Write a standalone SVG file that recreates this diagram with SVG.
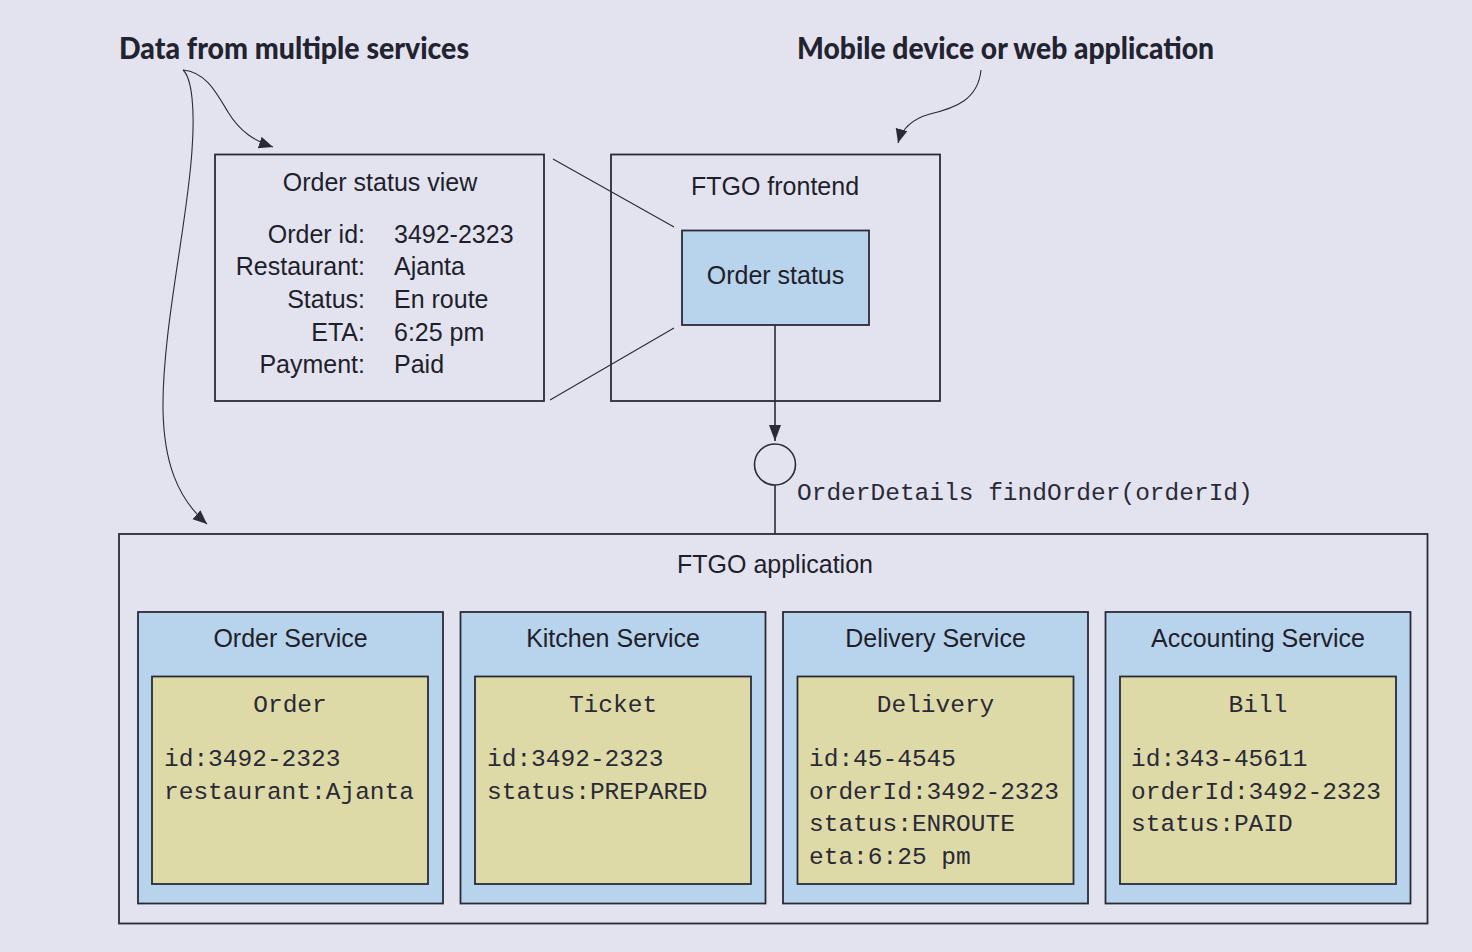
<svg xmlns="http://www.w3.org/2000/svg" width="1472" height="952" viewBox="0 0 1472 952">
<defs>
<style>
.bg{fill:#E3E3F0}
.box{fill:none;stroke:#2B2B38;stroke-width:1.8}
.svc{fill:#B8D3EC;stroke:#2B2B38;stroke-width:1.8}
.ent{fill:#DEDAA8;stroke:#2B2B38;stroke-width:1.8}
.sans{font-family:"Liberation Sans",Arial,sans-serif;font-size:25px;fill:#1F1F2B}
.mono{font-family:"Liberation Mono","Courier New",monospace;font-size:24.5px;fill:#2A2A36}
.call{font-family:Lato,"Open Sans",sans-serif;font-weight:900;font-size:30px;fill:#23232F}
.c{text-anchor:middle}
.r{text-anchor:end}
.thin{fill:none;stroke:#2B2B38;stroke-width:1.1}
.line{fill:none;stroke:#2B2B38;stroke-width:1.6}
</style>
<marker id="ah" markerUnits="userSpaceOnUse" markerWidth="16" markerHeight="14" refX="14" refY="6" orient="auto">
<path d="M0,0 L14,6 L0,12 z" fill="#2B2B38"/>
</marker>
<marker id="ahv" markerUnits="userSpaceOnUse" markerWidth="18" markerHeight="14" refX="16" refY="6" orient="auto">
<path d="M0,0 L16,6 L0,12 z" fill="#2B2B38"/>
</marker>
</defs>
<rect class="bg" x="0" y="0" width="1472" height="952"/>

<g id="callout-data">
<text class="call" x="119" y="59" textLength="350" lengthAdjust="spacingAndGlyphs">Data from multiple services</text>
</g>
<g id="callout-mobile">
<text class="call" x="797" y="59" textLength="417" lengthAdjust="spacingAndGlyphs">Mobile device or web application</text>
</g>

<g id="order-status-view">
<rect class="box" x="215" y="154.5" width="329" height="246.5"/>
<text class="sans c" x="380" y="191">Order status view</text>
<text class="sans r" x="365" y="243">Order id:</text>
<text class="sans" x="394" y="243">3492-2323</text>
<text class="sans r" x="365" y="275">Restaurant:</text>
<text class="sans" x="394" y="275">Ajanta</text>
<text class="sans r" x="365" y="307.5">Status:</text>
<text class="sans" x="394" y="307.5">En route</text>
<text class="sans r" x="365" y="340.5">ETA:</text>
<text class="sans" x="394" y="340.5">6:25 pm</text>
<text class="sans r" x="365" y="373">Payment:</text>
<text class="sans" x="394" y="373">Paid</text>
</g>

<g id="ftgo-frontend">
<rect class="box" x="611" y="154.5" width="329" height="246.5"/>
<text class="sans c" x="775" y="195">FTGO frontend</text>
</g>
<g id="order-status">
<rect class="svc" x="682" y="230.5" width="187" height="94.5"/>
<text class="sans c" x="775.5" y="284">Order status</text>
</g>

<g id="interface">
<circle cx="775" cy="464.5" r="20.5" fill="none" stroke="#2B2B38" stroke-width="1.6"/>
<text class="mono" x="797" y="500">OrderDetails findOrder(orderId)</text>
</g>

<g id="ftgo-application">
<rect class="box" x="119" y="534" width="1308.5" height="389.5"/>
<text class="sans c" x="775" y="573">FTGO application</text>
</g>

<g id="order-service">
<rect class="svc" x="138" y="612" width="305" height="291.5"/>
<text class="sans c" x="290.5" y="647">Order Service</text>
<rect class="ent" x="152" y="676.5" width="276" height="207.5"/>
<text class="mono c" x="290" y="712">Order</text>
<text class="mono" x="164" y="766">id:3492-2323</text>
<text class="mono" x="164" y="798.5">restaurant:Ajanta</text>
</g>

<g id="kitchen-service">
<rect class="svc" x="460.5" y="612" width="305" height="291.5"/>
<text class="sans c" x="613" y="647">Kitchen Service</text>
<rect class="ent" x="475" y="676.5" width="276" height="207.5"/>
<text class="mono c" x="613" y="712">Ticket</text>
<text class="mono" x="487" y="766">id:3492-2323</text>
<text class="mono" x="487" y="798.5">status:PREPARED</text>
</g>

<g id="delivery-service">
<rect class="svc" x="783" y="612" width="305" height="291.5"/>
<text class="sans c" x="935.5" y="647">Delivery Service</text>
<rect class="ent" x="797.5" y="676.5" width="276" height="207.5"/>
<text class="mono c" x="935.5" y="712">Delivery</text>
<text class="mono" x="809" y="766">id:45-4545</text>
<text class="mono" x="809" y="798.5">orderId:3492-2323</text>
<text class="mono" x="809" y="831">status:ENROUTE</text>
<text class="mono" x="809" y="863.5">eta:6:25 pm</text>
</g>

<g id="accounting-service">
<rect class="svc" x="1105.5" y="612" width="305" height="291.5"/>
<text class="sans c" x="1258" y="647">Accounting Service</text>
<rect class="ent" x="1120" y="676.5" width="276" height="207.5"/>
<text class="mono c" x="1258" y="712">Bill</text>
<text class="mono" x="1131" y="766">id:343-45611</text>
<text class="mono" x="1131" y="798.5">orderId:3492-2323</text>
<text class="mono" x="1131" y="831">status:PAID</text>
</g>

<g id="connectors">
<line class="thin" x1="553" y1="159" x2="674" y2="227"/>
<line class="thin" x1="550" y1="400" x2="674" y2="328"/>
<line class="line" x1="775" y1="325" x2="775" y2="441" marker-end="url(#ahv)"/>
<line class="line" x1="775" y1="485" x2="775" y2="534"/>
<path class="thin" d="M183,70 C205,72 215,90 228,112 C240,132 255,141 273,147" marker-end="url(#ah)"/>
<path class="thin" d="M183,70 C192,78 195,110 192,150 C188,220 162,330 163,410 C164,460 176,497 207,524" marker-end="url(#ah)"/>
<path class="thin" d="M981,70 C978,100 955,108 930,114 C912,119 902,128 898,143" marker-end="url(#ah)"/>
</g>
</svg>
